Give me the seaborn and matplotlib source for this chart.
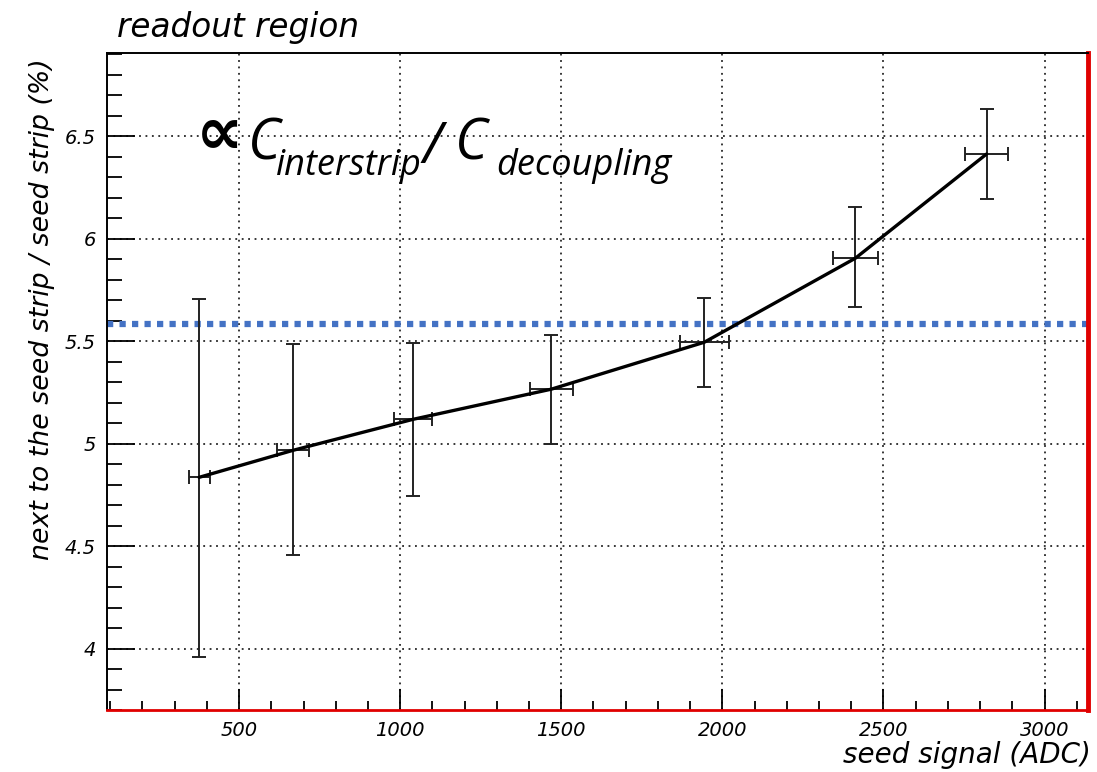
import matplotlib
matplotlib.use("Agg")
import matplotlib.pyplot as plt
import seaborn as sns
import numpy as np
import pandas as pd
from matplotlib.ticker import MultipleLocator

# ---- data ----
seed_signal = [376, 668, 1040, 1469, 1944, 2413, 2820]
ratio = [4.835, 4.967, 5.118, 5.265, 5.494, 5.904, 6.412]
ratio_up = [5.704, 5.484, 5.489, 5.528, 5.709, 6.153, 6.632]
ratio_down = [3.96, 4.454, 4.742, 4.996, 5.274, 5.665, 6.192]
x_err = [33, 50, 59, 67, 76, 71, 67]
reference_level = 5.585
x_ticks = [500, 1000, 1500, 2000, 2500, 3000]
y_ticks = [4, 4.5, 5, 5.5, 6, 6.5]

df = pd.DataFrame({"seed": seed_signal, "ratio": ratio})
yerr = np.array([np.array(ratio) - np.array(ratio_down),
                 np.array(ratio_up) - np.array(ratio)])

sns.set_style("white")
plt.rcParams['font.family'] = ['DejaVu Sans']
plt.rcParams['text.color'] = 'black'
plt.rcParams['xtick.color'] = 'black'
plt.rcParams['ytick.color'] = 'black'
plt.rcParams['xtick.labelcolor'] = 'black'
plt.rcParams['ytick.labelcolor'] = 'black'

W, H = 1097, 772
fig = plt.figure(figsize=(W / 100, H / 100), dpi=100)
ax = fig.add_axes([107 / W, 1 - 710 / H, (1088 - 107) / W, (710 - 53) / H])

ax.set_xlim(90, 3135)
ax.set_ylim(3.70, 6.905)

# grid
ax.set_xticks(x_ticks)
ax.set_yticks(y_ticks)
ax.xaxis.set_minor_locator(MultipleLocator(100))
ax.yaxis.set_minor_locator(MultipleLocator(0.1))
ax.grid(True, which='major', color='black', linestyle=(0, (1.2, 3)), linewidth=1.1)
ax.set_axisbelow(True)

# blue reference line
ax.axhline(reference_level, color='#4472C4', linestyle=(0, (1, 1)), linewidth=4.5, zorder=2)

# error bars
ax.errorbar(seed_signal, ratio, yerr=yerr, xerr=x_err, fmt='none',
            ecolor='#222222', elinewidth=1.4, capsize=5, capthick=1.4, zorder=3)

# connecting line
sns.lineplot(data=df, x="seed", y="ratio", ax=ax, color='black', linewidth=2.4,
             estimator=None, sort=False, zorder=4)

# ticks (ROOT style, inward)
ax.tick_params(axis='both', which='both', direction='in', bottom=True, left=True,
               top=False, right=False, width=1.3, color='black')
ax.tick_params(axis='x', which='major', length=21 * 0.72, labelsize=14, pad=8)
ax.tick_params(axis='y', which='major', length=28 * 0.72, labelsize=14, pad=8)
ax.tick_params(axis='x', which='minor', length=9 * 0.72)
ax.tick_params(axis='y', which='minor', length=15 * 0.72)
ax.set_xticklabels([str(t) for t in x_ticks], fontstyle='italic')
ax.set_yticklabels([f"{t:g}" for t in y_ticks], fontstyle='italic')

# spines
for s in ['left', 'top']:
    ax.spines[s].set_color('black')
    ax.spines[s].set_linewidth(1.4)
ax.spines['bottom'].set_color('#E00000')
ax.spines['bottom'].set_linewidth(2.0)
ax.spines['right'].set_color('#E00000')
ax.spines['right'].set_linewidth(3.5)

# labels
ax.set_xlabel("")
ax.set_ylabel("")
fig.text(1091 / W, 1 - 763 / H, "seed signal (ADC)", ha='right', va='baseline',
         fontsize=20, fontstyle='italic')
fig.text(42 / W, 1 - 58 / H, "next to the seed strip / seed strip (%)", rotation=90,
         ha='center', va='top', fontsize=19.3, fontstyle='italic')
fig.text(117 / W, 1 - 37 / H, "readout region", ha='left', va='baseline',
         fontsize=23.5, fontstyle='italic')

# formula annotation (pieces positioned in figure pixels)
def ftxt(x, y, s, size, **kw):
    fig.text(x / W, 1 - y / H, s, fontsize=size, ha='left', va='baseline', zorder=6, **kw)

ftxt(196, 154, "\u221d", 48, family=['DejaVu Sans'], fontweight='bold')
ftxt(248, 160, "C", 40, family=['Open Sans', 'DejaVu Sans'], fontstyle='italic')
ftxt(276, 175, "interstrip", 26, family=['Open Sans', 'DejaVu Sans'], fontstyle='italic')
ftxt(423, 163, "/", 40, family=['Open Sans', 'DejaVu Sans'], fontstyle='italic')
ftxt(455, 160, "C", 40, family=['Open Sans', 'DejaVu Sans'], fontstyle='italic')
ftxt(496, 175, "decoupling", 26, family=['Open Sans', 'DejaVu Sans'], fontstyle='italic')

fig.savefig("out.png", dpi=100)
